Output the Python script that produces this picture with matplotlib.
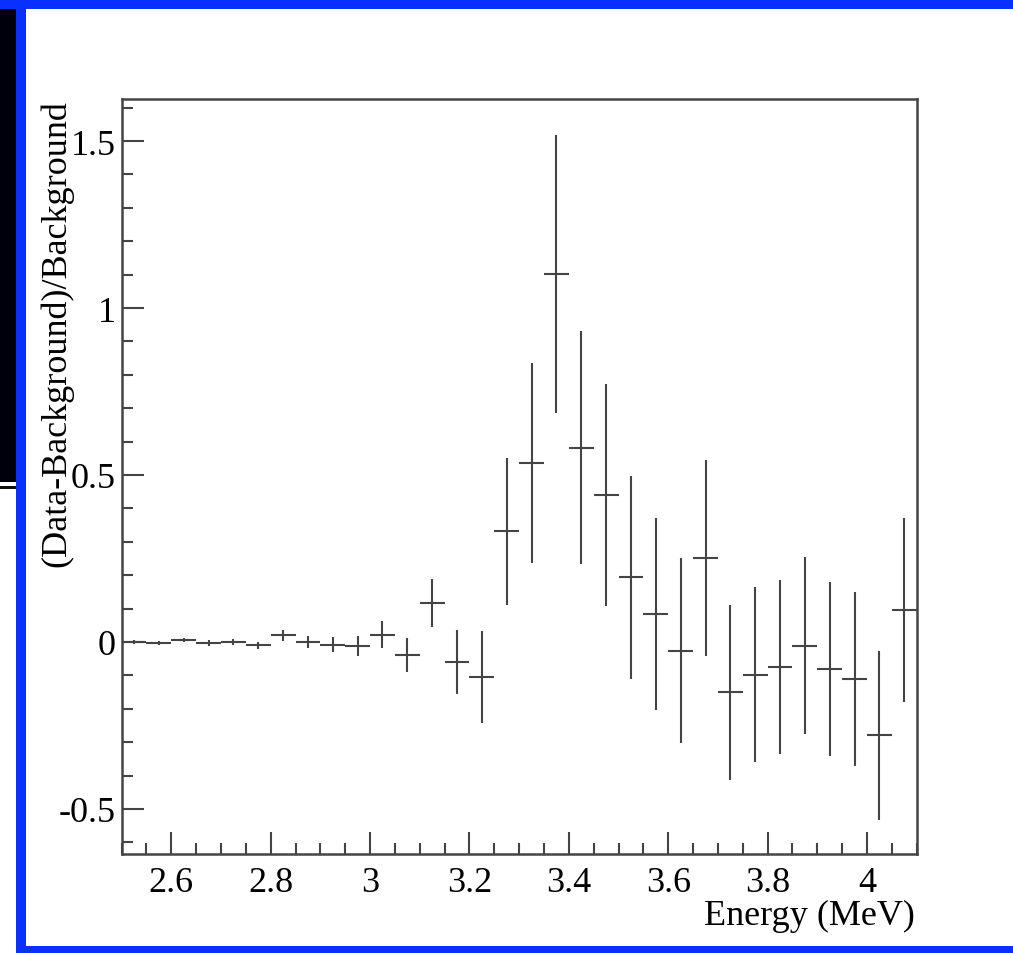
import matplotlib
matplotlib.use("Agg")
import matplotlib.pyplot as plt
from matplotlib.patches import Rectangle
from matplotlib.ticker import MultipleLocator, FuncFormatter

# bin centres (MeV), bin width 0.05
energy = [2.525, 2.575, 2.625, 2.675, 2.725, 2.775, 2.825, 2.875,
          2.925, 2.975, 3.025, 3.075, 3.125, 3.175, 3.225, 3.275,
          3.325, 3.375, 3.425, 3.475, 3.525, 3.575, 3.625, 3.675,
          3.725, 3.775, 3.825, 3.875, 3.925, 3.975, 4.025, 4.075]
ratio = [0.000, -0.003, 0.006, -0.003, 0.000, -0.010, 0.020, 0.000,
         -0.008, -0.012, 0.022, -0.040, 0.117, -0.060, -0.105, 0.331,
         0.536, 1.102, 0.581, 0.440, 0.194, 0.084, -0.026, 0.252,
         -0.151, -0.098, -0.076, -0.011, -0.081, -0.111, -0.280, 0.096]
ratio_err = [0.006, 0.005, 0.007, 0.008, 0.010, 0.011, 0.016, 0.017,
             0.023, 0.030, 0.040, 0.051, 0.073, 0.097, 0.137, 0.220,
             0.300, 0.415, 0.349, 0.332, 0.304, 0.288, 0.277, 0.293,
             0.261, 0.262, 0.261, 0.264, 0.260, 0.260, 0.254, 0.275]
half_width = 0.025

W, H = 1013, 954
plt.rcParams['font.family'] = ['Liberation Serif', 'DejaVu Serif']

fig = plt.figure(figsize=(W / 100, H / 100), dpi=100)
fig.patch.set_facecolor('white')

# slide decorations (figure pixel coords, y from top)
def px_rect(x0, y0, x1, y1, color):
    fig.patches.append(Rectangle((x0 / W, 1 - y1 / H), (x1 - x0) / W, (y1 - y0) / H,
                                 transform=fig.transFigure, facecolor=color,
                                 edgecolor='none', zorder=0))

blue = '#0a30ff'
px_rect(0, 0, 16, 483, '#00000c')
px_rect(0, 487, 16, 490, '#111111')
px_rect(0, 0, W, 10, blue)
px_rect(16, 0, 26, H, blue)
px_rect(16, 947, W, H, blue)

ax = fig.add_axes([121.6 / W, 1 - 855 / H, (916.7 - 121.6) / W, (855 - 100) / H])
ax.errorbar(energy, ratio, xerr=half_width, yerr=ratio_err, fmt='none',
            ecolor='#444444', elinewidth=1.5, capsize=0)

ax.set_xlim(2.5, 4.1)
ax.set_ylim(-0.635, 1.626)

ax.xaxis.set_major_locator(MultipleLocator(0.2))
ax.xaxis.set_minor_locator(MultipleLocator(0.05))
ax.yaxis.set_major_locator(MultipleLocator(0.5))
ax.yaxis.set_minor_locator(MultipleLocator(0.1))
ax.xaxis.set_major_formatter(FuncFormatter(lambda v, p: f'{v:g}'))
ax.yaxis.set_major_formatter(FuncFormatter(lambda v, p: f'{v:g}'))

ax.tick_params(which='both', direction='in', top=False, right=False,
               color='#444444', width=1.5, labelsize=26)
ax.tick_params(which='major', length=16)
ax.tick_params(which='minor', length=8)
ax.tick_params(axis='x', which='major', pad=9)
ax.tick_params(axis='y', which='major', pad=4)
for s in ax.spines.values():
    s.set_color('#444444')
    s.set_linewidth(1.8)

fig.text(57 / W, 1 - 100 / H, '(Data-Background)/Background', rotation=90,
         ha='center', va='top', fontsize=26)
fig.text(915 / W, 1 - 916 / H, 'Energy (MeV)', ha='right', va='center', fontsize=26)

fig.savefig('out.png', dpi=100)
